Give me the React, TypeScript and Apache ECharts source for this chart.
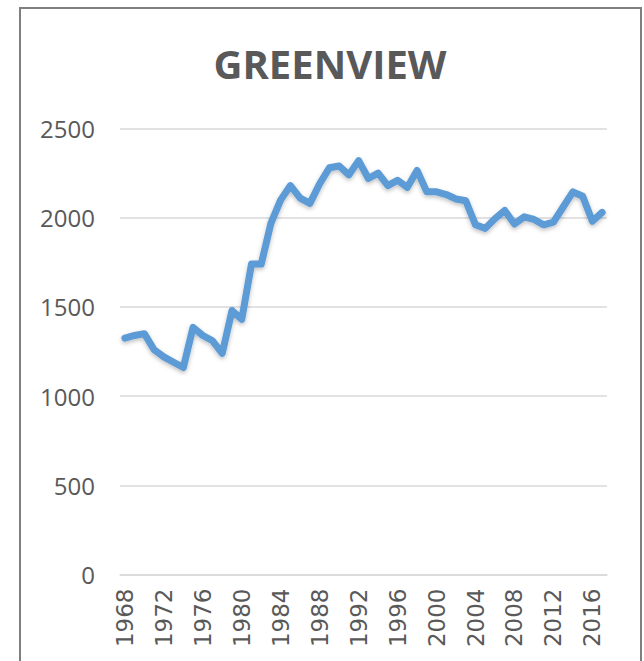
import React, { useEffect, useRef } from "react";
import * as echarts from "echarts";

const years: string[] = [];
for (let y = 1968; y <= 2017; y++) years.push(String(y));

const values: number[] = [
  1325, 1340, 1350, 1260, 1220, 1190, 1160, 1385, 1340, 1310,
  1240, 1480, 1430, 1740, 1740, 1970, 2100, 2180, 2110, 2080,
  2190, 2280, 2290, 2240, 2320, 2220, 2250, 2180, 2210, 2170,
  2265, 2145, 2145, 2130, 2105, 2095, 1960, 1940, 1995, 2040,
  1965, 2005, 1990, 1960, 1975, 2060, 2145, 2120, 1980, 2030,
];

const yTicks = { min: 0, max: 2500, interval: 500 };
const chartTitle = "GREENVIEW";

export default function App() {
  const ref = useRef<HTMLDivElement>(null);
  useEffect(() => {
    if (!ref.current) return;
    const chart = echarts.init(ref.current, undefined, { renderer: "svg" });
    chart.setOption({
      animation: false,
      backgroundColor: "#ffffff",
      graphic: [
        {
          type: "rect",
          shape: { x: 20, y: 8, width: 621, height: 700 },
          style: { fill: "none", stroke: "#7f7f7f", lineWidth: 2 },
          silent: true,
        },
        {
          type: "text",
          x: 330,
          y: 63,
          style: {
            text: chartTitle,
            fontFamily: "Open Sans",
            fontWeight: "bold",
            fontSize: 40,
            fill: "#595959",
            align: "center",
            verticalAlign: "middle",
          },
        },
      ],
      grid: { left: 120, right: 37, top: 128.5, bottom: 86.5, containLabel: false },
      xAxis: {
        type: "category",
        data: years,
        boundaryGap: true,
        axisLine: { show: true, lineStyle: { color: "#D9D9D9", width: 1.5 } },
        axisTick: { show: false },
        axisLabel: {
          interval: 3,
          rotate: 90,
          margin: 14,
          fontSize: 23,
          fontFamily: "DejaVu Sans",
          color: "#595959",
        },
        splitLine: { show: false },
      },
      yAxis: {
        type: "value",
        min: yTicks.min,
        max: yTicks.max,
        interval: yTicks.interval,
        axisLine: { show: false },
        axisTick: { show: false },
        axisLabel: {
          margin: 25,
          fontSize: 24,
          fontFamily: "Open Sans",
          color: "#595959",
          formatter: (v: number) => String(v),
        },
        splitLine: { lineStyle: { color: "#D9D9D9", width: 1.5 } },
      },
      series: [
        {
          type: "line",
          data: values,
          symbol: "none",
          lineStyle: {
            color: "#5B9BD5",
            width: 7,
            cap: "round",
            join: "round",
            shadowColor: "rgba(0,0,0,0.25)",
            shadowBlur: 4,
            shadowOffsetY: 2,
          },
        },
      ],
    });
    return () => chart.dispose();
  }, []);
  return (
    <div
      ref={ref}
      style={{ position: "absolute", left: 0, top: 0, width: 644, height: 661 }}
    />
  );
}
